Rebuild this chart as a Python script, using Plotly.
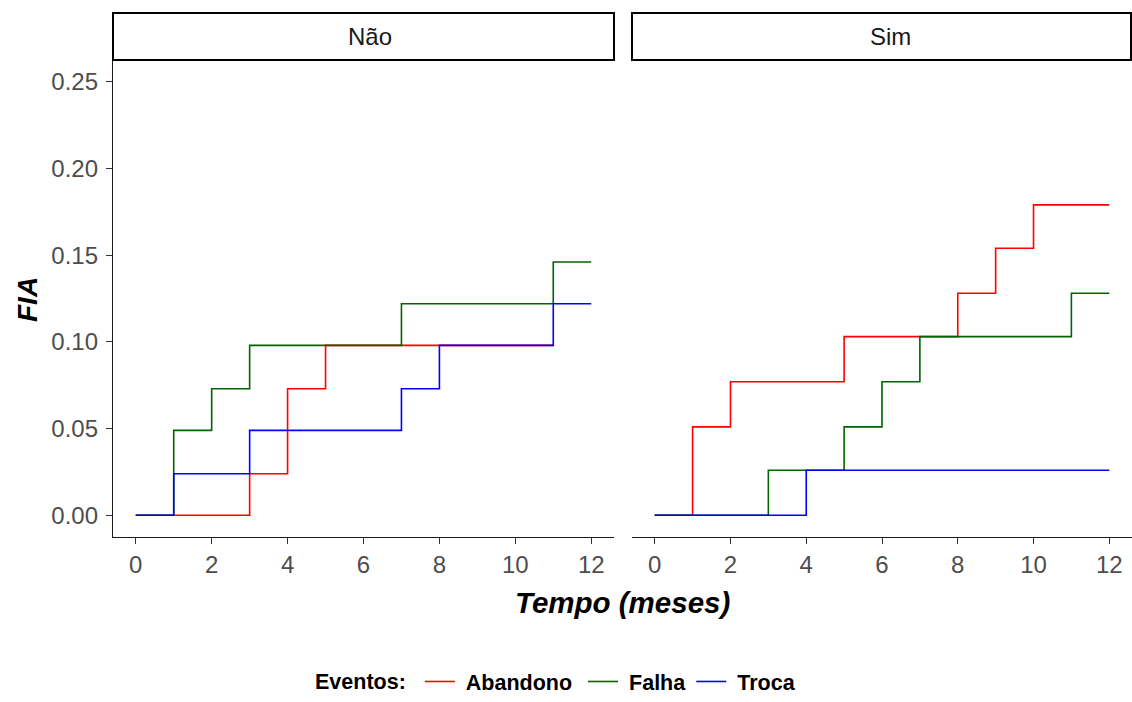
import plotly.graph_objects as go

# Cumulative incidence (FIA) by event type, split by group
nao_abandono_tempo = [0, 3, 4, 5, 11]
nao_abandono_fia = [0.0, 0.024, 0.073, 0.098, 0.098]
nao_falha_tempo = [0, 1, 2, 3, 7, 11, 12]
nao_falha_fia = [0.0, 0.049, 0.073, 0.098, 0.122, 0.146, 0.146]
nao_troca_tempo = [0, 1, 3, 7, 8, 11, 12]
nao_troca_fia = [0.0, 0.024, 0.049, 0.073, 0.098, 0.122, 0.122]

sim_abandono_tempo = [0, 1, 2, 5, 8, 9, 10, 12]
sim_abandono_fia = [0.0, 0.051, 0.077, 0.103, 0.128, 0.154, 0.179, 0.179]
sim_falha_tempo = [0, 3, 5, 6, 7, 11, 12]
sim_falha_fia = [0.0, 0.026, 0.051, 0.077, 0.103, 0.128, 0.128]
sim_troca_tempo = [0, 4, 12]
sim_troca_fia = [0.0, 0.026, 0.026]

eventos = ["Abandono", "Falha", "Troca"]
cores = {"Abandono": "#FF0000", "Falha": "#006400", "Troca": "#0000FF"}
paineis = ["Não", "Sim"]

y_ticks = [0.0, 0.05, 0.10, 0.15, 0.20, 0.25]
y_tick_labels = ["0.00", "0.05", "0.10", "0.15", "0.20", "0.25"]
x_ticks = [0, 2, 4, 6, 8, 10, 12]

series = {
    ("Não", "Abandono"): (nao_abandono_tempo, nao_abandono_fia),
    ("Não", "Falha"): (nao_falha_tempo, nao_falha_fia),
    ("Não", "Troca"): (nao_troca_tempo, nao_troca_fia),
    ("Sim", "Abandono"): (sim_abandono_tempo, sim_abandono_fia),
    ("Sim", "Falha"): (sim_falha_tempo, sim_falha_fia),
    ("Sim", "Troca"): (sim_troca_tempo, sim_troca_fia),
}

# legend label padding (non-breaking spaces around the bold names)
legend_labels = {
    "Abandono": "\u00a0<b>Abandono</b>\u00a0",
    "Falha": "\u00a0<b>Falha</b>",
    "Troca": "\u00a0<b>Troca</b>",
}

W, H = 1132, 702
FONT = "Liberation Sans, Arial, sans-serif"
fig = go.Figure()

for i, painel in enumerate(paineis):
    xa = "x" if i == 0 else "x2"
    ya = "y" if i == 0 else "y2"
    for ev in eventos:
        t, f = series[(painel, ev)]
        fig.add_trace(go.Scatter(
            x=t, y=f, mode="lines", line_shape="hv",
            line=dict(color=cores[ev], width=1.6),
            name=legend_labels[ev], legendgroup=ev, showlegend=(i == 0),
            xaxis=xa, yaxis=ya,
        ))

# panel geometry (paper fractions)
left_dom = [113 / W, 614 / W]
right_dom = [632 / W, 1.0]
y_dom = [1 - 537 / H, 1 - 60 / H]

tick_font = dict(family=FONT, size=24, color="#4D4D4D")
x_axis_style = dict(
    range=[-0.6, 12.6], tickvals=x_ticks, ticks="outside", ticklen=6,
    tickcolor="#333333", tickwidth=1.3, showline=True, linecolor="#1a1a1a",
    linewidth=1.4, showgrid=False, zeroline=False, tickfont=tick_font,
    automargin=False,
)
fig.update_layout(
    width=W, height=H,
    margin=dict(l=0, r=0, t=0, b=0),
    plot_bgcolor="white", paper_bgcolor="white",
    xaxis=dict(domain=left_dom, anchor="y", **x_axis_style),
    xaxis2=dict(domain=right_dom, anchor="y2", **x_axis_style),
    yaxis=dict(domain=y_dom, anchor="x", range=[-0.0125, 0.2625], tickvals=y_ticks,
               ticktext=y_tick_labels, ticks="outside", ticklen=6, tickcolor="#333333",
               tickwidth=1.3, showline=True, linecolor="#1a1a1a", linewidth=1.4,
               showgrid=False, zeroline=False, tickfont=tick_font, ticklabelstandoff=3,
               automargin=False),
    yaxis2=dict(domain=y_dom, anchor="x2", range=[-0.0125, 0.2625], showticklabels=False,
                ticks="", showline=False, showgrid=False, zeroline=False),
    legend=dict(
        orientation="h", x=313 / W, xanchor="left", y=0, yanchor="bottom",
        title=dict(text="<b>Eventos:</b> ", font=dict(family=FONT, size=21.5, color="black")),
        font=dict(family=FONT, size=21.5, color="black"),
        tracegroupgap=0,
    ),
    showlegend=True,
)

# facet strips
strip_top = 1 - 13 / H
strip_bot = 1 - 60 / H
for dom, label, dx in [(left_dom, "Não", 6), (right_dom, "Sim", 8)]:
    fig.add_shape(type="rect", xref="paper", yref="paper",
                  x0=dom[0], x1=min(dom[1], 1 - 1 / W), y0=strip_bot, y1=strip_top,
                  line=dict(color="black", width=2), fillcolor="white")
    fig.add_annotation(text=label, xref="paper", yref="paper",
                       x=(dom[0] + dom[1]) / 2 + dx / W, y=(strip_top + strip_bot) / 2,
                       xanchor="center", yanchor="middle", showarrow=False,
                       font=dict(family=FONT, size=24, color="#1A1A1A"))

# axis titles
fig.add_annotation(text="<b><i>Tempo (meses)</i></b>", xref="paper", yref="paper",
                   x=622 / W, y=1 - 602 / H, xanchor="center", yanchor="middle",
                   showarrow=False, font=dict(family=FONT, size=29.5, color="black"))
fig.add_annotation(text="<b><i>FIA</i></b>", xref="paper", yref="paper",
                   x=27 / W, y=1 - 300 / H, xanchor="center", yanchor="middle",
                   showarrow=False, textangle=-90,
                   font=dict(family=FONT, size=28, color="black"))

fig.write_html("out.html")
